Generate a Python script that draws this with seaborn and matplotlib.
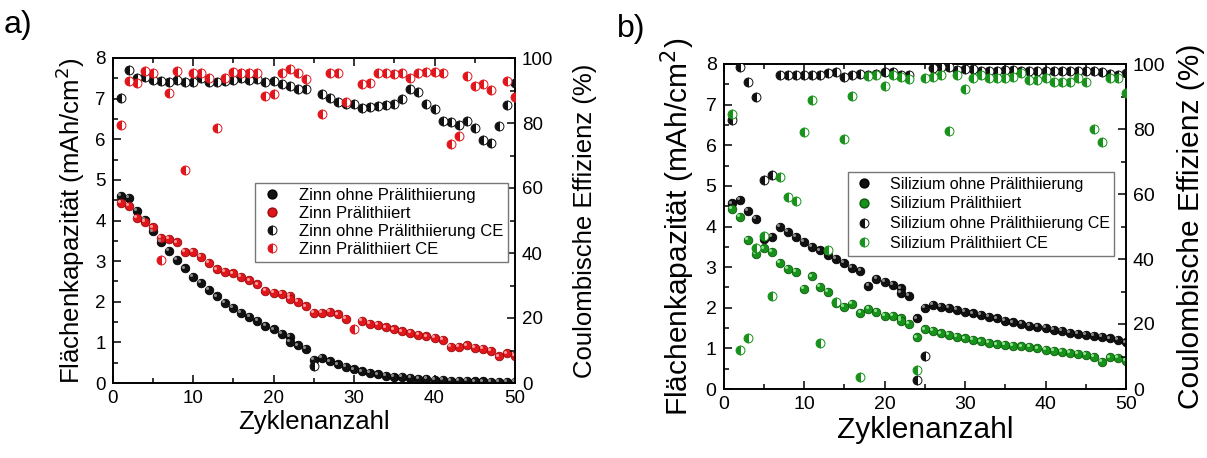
import numpy as np
import matplotlib
matplotlib.use("Agg")
import matplotlib.pyplot as plt
from matplotlib.lines import Line2D
from matplotlib.ticker import MultipleLocator
from matplotlib.transforms import ScaledTranslation
import seaborn as sns

nan = np.nan
cycles = list(range(1, 51))

# ---- Panel a) Zinn ----
zinn_cap = [4.61, 4.56, 4.23, 4.01, 3.73, 3.48, 3.25, 3.03, 2.82, 2.62,
            2.46, 2.29, 2.13, 1.98, 1.85, 1.73, 1.63, 1.53, 1.41, 1.32,
            1.21, 1.13, 0.93, 0.84, 0.57, 0.62, 0.53, 0.46, 0.39, 0.34,
            0.29, 0.25, 0.21, 0.18, 0.16, 0.15, 0.12, 0.11, 0.10, 0.08,
            0.07, 0.06, 0.05, 0.05, 0.04, 0.04, 0.03, 0.03, 0.03, 0.03]
zinn_li_cap = [4.43, 4.36, 4.06, 3.97, 3.83, 3.58, 3.55, 3.46, 3.23, 3.23,
               3.10, 2.96, 2.80, 2.74, 2.70, 2.61, 2.53, 2.43, 2.27, 2.22,
               2.20, 2.14, 1.99, 1.89, 1.73, 1.73, 1.76, 1.69, 1.58, nan,
               1.53, 1.45, 1.43, 1.37, 1.32, 1.27, 1.23, 1.18, 1.15, 1.11,
               1.06, 0.89, 0.89, 0.93, 0.87, 0.84, 0.80, 0.66, 0.73, 0.67]
zinn_ce = [87.8, 96.3, 93.8, 94.3, 93.2, 92.9, 92.5, 93.2, 92.5, 92.5,
           93.8, 92.6, 92.5, 92.9, 93.3, 93.8, 93.3, 93.5, 92.5, 92.9,
           91.9, 91.5, 90.5, 90.5, 5.2, 88.9, 87.8, 86.6, 85.7, 85.7,
           84.7, 84.8, 85.2, 85.5, 86.0, 87.5, 90.6, 89.4, 86.0, 84.3,
           80.6, 80.4, 79.4, 80.6, 78.4, 74.8, 73.8, 79.2, 85.6, 92.2]
zinn_li_ce = [79.5, 93.0, 92.3, 96.1, 95.3, 38.0, 89.3, 96.1, 65.5, 95.3,
              95.3, 93.8, 78.6, 93.9, 95.7, 95.5, 95.5, 95.5, 88.3, 89.0,
              95.5, 96.6, 95.5, 93.4, nan, 82.7, 95.5, 95.5, 86.4, 16.5,
              91.9, 92.2, 95.5, 95.3, 95.1, 95.3, 93.8, 95.3, 95.8, 95.8,
              95.3, 73.4, 76.0, 94.6, 91.5, 91.9, 90.2, nan, 92.9, 88.1]
# repeated measurement at cycle 22
zinn_extra_cycle = [22]
zinn_extra_cap = [1.02]
zinn_li_extra_cap = [2.07]

# ---- Panel b) Silizium ----
si_cap = [4.57, 4.66, 4.38, 4.19, 3.69, 3.74, 4.00, 3.87, 3.75, 3.63,
          3.50, 3.41, 3.30, 3.20, 3.10, 2.99, 2.91, 2.54, 2.72, 2.64,
          2.56, 2.48, 2.30, 1.74, 1.99, 2.07, 2.03, 1.99, 1.95, 1.90,
          1.86, 1.82, 1.78, 1.74, 1.68, 1.64, 1.60, 1.56, 1.53, 1.50,
          1.45, 1.43, 1.39, 1.35, 1.33, 1.31, 1.29, 1.25, 1.21, 1.15]
si_li_cap = [4.43, 4.24, 3.67, 3.32, 3.46, 3.38, 3.10, 2.96, 2.89, 2.47,
             2.77, 2.51, 2.40, 2.11, 2.03, 2.09, 1.87, 1.97, 1.90, 1.80,
             1.80, 1.74, 1.60, 1.27, 1.47, 1.43, 1.37, 1.33, 1.29, 1.25,
             1.21, 1.17, 1.13, 1.10, 1.08, 1.07, 1.05, 1.03, 1.00, 0.97,
             0.94, 0.92, 0.89, 0.86, 0.84, 0.80, 0.67, 0.78, 0.76, 0.70]
si_ce = [82.8, 99.0, 94.6, 89.8, 64.2, 65.7, 96.5, 96.5, 96.5, 96.7,
         96.7, 96.7, 97.1, 97.4, 96.1, 96.7, 96.9, 96.6, 96.8, 97.6,
         97.6, 96.5, 96.7, 2.8, 10.2, 98.7, 99.2, 99.0, 98.2, 98.4,
         98.4, 97.9, 97.9, 97.9, 98.2, 98.2, 97.9, 97.9, 97.9, 97.9,
         97.9, 97.9, 97.9, 97.9, 97.9, 97.7, 97.4, 96.9, 96.6, 97.3]
si_li_ce = [84.5, 12.0, 15.8, 43.3, 47.0, 28.6, 65.3, 59.2, 58.0, 79.1,
            89.0, 14.3, 42.8, 26.9, 77.0, 90.2, 3.8, 96.4, 96.5, 93.3,
            96.5, 96.1, 95.3, 5.8, 95.8, 96.0, 96.5, 79.4, 96.6, 92.3,
            95.6, 96.6, 95.6, 95.6, 95.6, 96.1, 97.2, 95.1, 95.1, 95.6,
            94.6, 94.4, 94.4, 95.6, 94.6, 79.9, 75.9, 95.8, 95.6, 91.0]
si_extra_cycle = [22]
si_extra_cap = [2.37]
si_li_extra_cap = [1.68]

labels_a = ["Zinn ohne Prälithiierung", "Zinn Prälithiiert",
            "Zinn ohne Prälithiierung CE", "Zinn Prälithiiert CE"]
labels_b = ["Silizium ohne Prälithiierung", "Silizium Prälithiiert",
            "Silizium ohne Prälithiierung CE", "Silizium Prälithiiert CE"]

BLACK = "#111111"
RED = "#e0161c"
GREEN = "#17921a"
HL = {BLACK: "#8a8a8a", RED: "#ff9a9a", GREEN: "#8fe08f"}
EDGE = {BLACK: "#000000", RED: "#9a0a0a", GREEN: "#0b5a0b"}

sns.set_theme(style="ticks")
plt.rcParams["font.family"] = ["Liberation Sans", "DejaVu Sans"]
plt.rcParams["axes.linewidth"] = 1.2
for key in ("text.color", "axes.labelcolor", "xtick.color", "ytick.color",
            "axes.edgecolor"):
    plt.rcParams[key] = "black"

fig = plt.figure(figsize=(12.07, 4.58), dpi=100)


def balls(ax, x, y, color, size=38):
    sns.scatterplot(x=x, y=y, ax=ax, color=color, s=size,
                    edgecolor=EDGE[color], linewidth=0.6, legend=False, zorder=3)
    off = ax.transData + ScaledTranslation(-1.3 / 72, 1.2 / 72, fig.dpi_scale_trans)
    sns.scatterplot(x=x, y=y, ax=ax, color=HL[color], s=5, linewidth=0,
                    legend=False, transform=off, zorder=4)


def halves(ax, x, y, color, ms=6.4):
    sns.lineplot(x=x, y=y, ax=ax, marker="o", linestyle="none",
                 fillstyle="left", markerfacecolor=color,
                 markerfacecoloralt="white", markeredgecolor=color,
                 markeredgewidth=0.7, markersize=ms, estimator=None,
                 sort=False, legend=False, zorder=3)


def panel(rect, cap1, cap2, ce1, ce2, ex_c, ex1, ex2, c2, labels,
          lab_fs, tick_fs, leg_anchor, leg_fs, leg_sp, tag, tag_xy, tag_fs, rpad):
    ax = fig.add_axes(rect)
    ax2 = ax.twinx()
    balls(ax, cycles, cap1, BLACK)
    balls(ax, ex_c, ex1, BLACK)
    balls(ax, cycles, cap2, c2)
    balls(ax, ex_c, ex2, c2)
    halves(ax2, cycles, ce1, BLACK)
    halves(ax2, cycles, ce2, c2)

    ax.set_xlim(0, 50)
    ax.set_ylim(0, 8)
    ax2.set_ylim(0, 100)
    ax.xaxis.set_major_locator(MultipleLocator(10))
    ax.xaxis.set_minor_locator(MultipleLocator(5))
    ax.yaxis.set_major_locator(MultipleLocator(1))
    ax.yaxis.set_minor_locator(MultipleLocator(0.5))
    ax2.yaxis.set_major_locator(MultipleLocator(20))
    ax2.yaxis.set_minor_locator(MultipleLocator(10))
    ax.tick_params(which="both", direction="in", top=True, right=False,
                   labelsize=tick_fs, width=1.1, color="black",
                   labelcolor="black", pad=5)
    ax.tick_params(which="major", length=6)
    ax.tick_params(which="minor", length=3.5)
    ax2.tick_params(which="both", direction="in", labelsize=tick_fs,
                    width=1.1, color="black", labelcolor="black", pad=5)
    ax2.tick_params(which="major", length=6)
    ax2.tick_params(which="minor", length=3.5)
    for a in (ax, ax2):
        for s in a.spines.values():
            s.set_visible(True)
            s.set_color("black")
            s.set_linewidth(1.2)

    ax.set_xlabel("Zyklenanzahl", fontsize=lab_fs, labelpad=2, color="black")
    ax.set_ylabel("Flächenkapazität (mAh/cm$^2$)", fontsize=lab_fs,
                  labelpad=6, color="black")
    ax2.set_ylabel("Coulombische Effizienz (%)", fontsize=lab_fs,
                   labelpad=rpad, color="black")

    handles = [
        Line2D([], [], marker="o", linestyle="none", color=BLACK,
               markeredgecolor=EDGE[BLACK], markersize=6.4),
        Line2D([], [], marker="o", linestyle="none", color=c2,
               markeredgecolor=EDGE[c2], markersize=6.4),
        Line2D([], [], marker="o", linestyle="none", fillstyle="left",
               markerfacecolor=BLACK, markerfacecoloralt="white",
               markeredgecolor=BLACK, markersize=6.4, markeredgewidth=0.7),
        Line2D([], [], marker="o", linestyle="none", fillstyle="left",
               markerfacecolor=c2, markerfacecoloralt="white",
               markeredgecolor=c2, markersize=6.4, markeredgewidth=0.7),
    ]
    leg = ax2.legend(handles, labels, loc="upper right",
                     bbox_to_anchor=leg_anchor, fontsize=leg_fs,
                     frameon=True, fancybox=False, edgecolor="#777777",
                     framealpha=1, borderpad=0.3, labelspacing=leg_sp,
                     handletextpad=0.9, handlelength=1.4, borderaxespad=0)
    leg.get_frame().set_linewidth(1.0)
    for t in leg.get_texts():
        t.set_color("black")
    fig.text(tag_xy[0], tag_xy[1], tag, fontsize=tag_fs, ha="left",
             va="top", color="black")
    return ax, ax2


panel([112.5 / 1207, 75 / 458, 402.5 / 1207, 325 / 458],
      zinn_cap, zinn_li_cap, zinn_ce, zinn_li_ce,
      zinn_extra_cycle, zinn_extra_cap, zinn_li_extra_cap, RED, labels_a,
      lab_fs=18.5, tick_fs=13.5, leg_anchor=(0.983, 0.615), leg_fs=12,
      leg_sp=0.18, tag="a)", tag_xy=(4 / 1207, 1 - 10 / 458), tag_fs=23,
      rpad=14)

panel([723.5 / 1207, 69 / 458, 402.5 / 1207, 325 / 458],
      si_cap, si_li_cap, si_ce, si_li_ce,
      si_extra_cycle, si_extra_cap, si_li_extra_cap, GREEN, labels_b,
      lab_fs=21.5, tick_fs=14, leg_anchor=(0.971, 0.668), leg_fs=11.5,
      leg_sp=0.3, tag="b)", tag_xy=(617 / 1207, 1 - 14 / 458), tag_fs=23,
      rpad=8)

fig.savefig("out.png", dpi=100)
